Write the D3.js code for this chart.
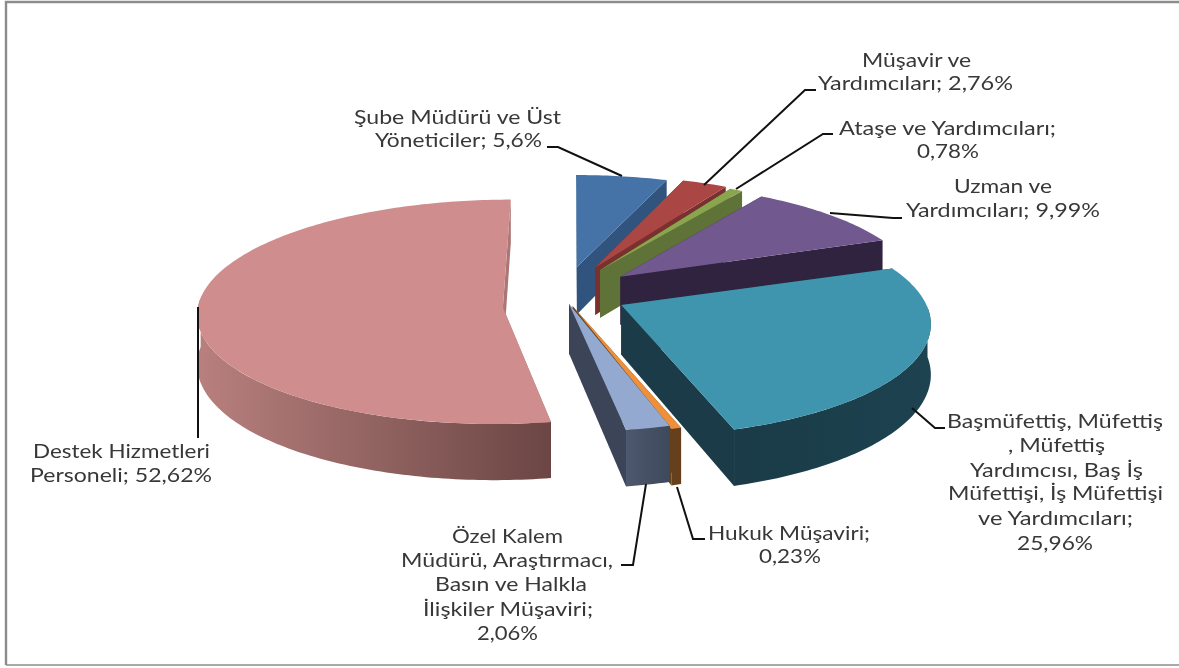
<!DOCTYPE html>
<html><head><meta charset="utf-8">
<style>html,body{margin:0;padding:0;background:#fff}svg{display:block;filter:blur(0.45px)}text{font-family:Lato,"Open Sans",sans-serif;font-size:19px;fill:#383838}</style>
<script src="https://cdnjs.cloudflare.com/ajax/libs/d3/7.9.0/d3.min.js"></script>
</head><body><svg id="c" width="1179" height="668"></svg>
<script>
// ---- data
const categories = ["Şube Müdürü ve Üst Yöneticiler","Müşavir ve Yardımcıları","Ataşe ve Yardımcıları","Uzman ve Yardımcıları","Başmüfettiş, Müfettiş, Müfettiş Yardımcısı, Baş İş Müfettişi, İş Müfettişi ve Yardımcıları","Hukuk Müşaviri","Özel Kalem Müdürü, Araştırmacı, Basın ve Halkla İlişkiler Müşaviri","Destek Hizmetleri Personeli"];
const values = [5.6,2.76,0.78,9.99,25.96,0.23,2.06,52.62];
// ---- styles
const topColors  = ["#4573a7","#aa4643","#89a54e","#71588f","#3f95ad","#ee8f3a","#93a9cf","#cf8e8d"];
const wallColors = ["#30547d","#7a302e","#5f7338","#30233f","#1a3b47","#66401c","#3b4557","#ab7776"];
const arcLeft    = ["#30547d","#7a302e","#5f7338","#30233f","#1a3b47","#66401c","#4d586e","#b8807e"];
const arcRight   = ["#30547d","#7a302e","#5f7338","#30233f","#1d4250","#66401c","#3f495c","#6b4644"];
// ---- layout: explosion of each slice on the ground plane
const explodeX = [0.027,0.09,0.106,0.174,0.171,0.012,0,-0.216];
const explodeZ = [-0.345,-0.34,-0.315,-0.252,0.03,0.02,0,-0.055];
const apexDz   = [0,0,0,0,-0.02,0,0,0.085];
const drawOrder = [0,1,2,3,4,7,5,6];
const minSpan = 1.7*Math.PI/180;
const cx=569, cy=304, R=305, B=112, k=0.125, D=49.5;
const sx = d3.scaleLinear().domain([0,1]).range([cx,cx+R]);
const sy = d3.scaleLinear().domain([0,1]).range([cy,cy+B]);
const proj = (x,z,h=0)=>{const w=1-k*z; return [sx(x/w), sy(z/w)+h*D/w];};
const labels = [
 ["Şube Müdürü ve Üst",354,561,124],["Yöneticiler; 5,6%",375,542,147],
 ["Müşavir ve",862,971,67],["Yardımcıları; 2,76%",818,1013,90],
 ["Ataşe ve Yardımcıları;",839,1056,135],["0,78%",917,979,158],
 ["Uzman ve",954,1052,193],["Yardımcıları; 9,99%",906,1100,217],
 ["Başmüfettiş, Müfettiş",947,1163,428],[", Müfettiş",1008,1105,452],["Yardımcısı, Baş İş",970,1143,477],["Müfettişi, İş Müfettişi",948,1163,500],["ve Yardımcıları;",978,1133,525],["25,96%",1017,1093,550],
 ["Hukuk Müşaviri;",708,870,540],["0,23%",759,821,563],
 ["Özel Kalem",452,563,543],["Müdürü, Araştırmacı,",401,613,567],["Basın ve Halkla",435,587,591],["İlişkiler Müşaviri;",423,593,616],["2,06%",477,538,640],
 ["Destek Hizmetleri",33,210,458],["Personeli; 52,62%",30,212,482]
];
const leaders = [
 [[547,147],[558,147],[622,176]],
 [[816,90],[805,90],[704,185]],
 [[833,134],[823,134],[736,189]],
 [[902,218],[893,218],[830,213]],
 [[945,428],[935,428],[912,408]],
 [[705,539],[693,539],[677,487]],
 [[621,565],[633,565],[646,484]],
 [[198,307],[198,438]]
];
// ---- draw
const svg=d3.select("#c");
const defs=svg.append("defs");
const line=d3.line();
svg.append("path").attr("d","M6,665V2H1179").attr("fill","none").attr("stroke","#8c8c8c").attr("stroke-width",2.4);
svg.append("path").attr("d","M6,665H1179").attr("fill","none").attr("stroke","#8c8c8c").attr("stroke-width",1.6);
const pie=d3.pie().sort(null).value(d=>d);
const arcs=pie(values);
const arcPts=(i,a0,a1,h)=>{const n=Math.max(2,Math.ceil((a1-a0)/(Math.PI/180)));
  return d3.range(n+1).map(j=>{const a=a0+(a1-a0)*j/n;return proj(explodeX[i]+Math.sin(a),explodeZ[i]-Math.cos(a),h);});};
drawOrder.forEach(i=>{
  let a0=arcs[i].startAngle,a1=arcs[i].endAngle;
  if(a1-a0<minSpan){const m=(a0+a1)/2;a0=m-minSpan/2;a1=m+minSpan/2;}
  const g=svg.append("g");
  const ax=explodeX[i], az=explodeZ[i]+apexDz[i];
  const A=proj(ax,az,0), Ab=proj(ax,az,1);
  [a0,a1].forEach(a=>{
    const P=proj(explodeX[i]+Math.sin(a),explodeZ[i]-Math.cos(a),0), Pb=proj(explodeX[i]+Math.sin(a),explodeZ[i]-Math.cos(a),1);
    g.append("path").attr("d",line([A,P,Pb,Ab])+"Z").attr("fill",wallColors[i]);
  });
  const w0=Math.max(a0,Math.PI/2), w1=Math.min(a1,1.5*Math.PI);
  if(w1>w0){
    const t=arcPts(i,w0,w1,0), b=arcPts(i,w0,w1,1).reverse();
    const ex=d3.extent(t,d=>d[0]);
    const id="gw"+i;
    const lg=defs.append("linearGradient").attr("id",id).attr("gradientUnits","userSpaceOnUse")
      .attr("x1",ex[0]).attr("x2",ex[1]).attr("y1",0).attr("y2",0);
    lg.append("stop").attr("offset",0).attr("stop-color",arcLeft[i]);
    lg.append("stop").attr("offset",1).attr("stop-color",arcRight[i]);
    g.append("path").attr("d",line(t.concat(b))+"Z").attr("fill",`url(#${id})`);
  }
  g.append("path").attr("d",line([A].concat(arcPts(i,a0,a1,0)))+"Z").attr("fill",topColors[i]);
});
svg.append("g").selectAll("path").data(leaders).join("path")
  .attr("d",d=>line(d)).attr("fill","none").attr("stroke","#111").attr("stroke-width",2);
svg.append("g").selectAll("text").data(labels).join("text")
  .attr("x",d=>d[1]).attr("y",d=>d[3]).attr("textLength",d=>d[2]-d[1]).attr("lengthAdjust","spacingAndGlyphs").text(d=>d[0]);
</script></body></html>
